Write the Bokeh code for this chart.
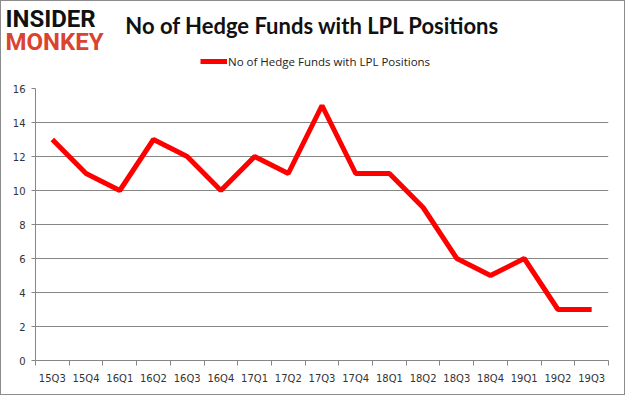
from bokeh.plotting import figure
from bokeh.layouts import column
from bokeh.models import FixedTicker, Label, Legend, LegendItem, Range1d
from bokeh.embed import file_html
from bokeh.resources import INLINE

quarters = ["15Q3", "15Q4", "16Q1", "16Q2", "16Q3", "16Q4", "17Q1", "17Q2", "17Q3",
            "17Q4", "18Q1", "18Q2", "18Q3", "18Q4", "19Q1", "19Q2", "19Q3"]
funds = [13, 11, 10, 13, 12, 10, 12, 11, 15, 11, 11, 9, 6, 5, 6, 3, 3]
y_ticks = [0, 2, 4, 6, 8, 10, 12, 14, 16]
series_name = "No of Hedge Funds with LPL Positions"
title_text = "No of Hedge Funds with LPL Positions"

RED = "#ff0000"
GREY = "#868686"
W = 623
HEAD_H = 78
MAIN_H = 315

xs = [i + 0.5 for i in range(len(quarters))]

# ---------- header: logo, title, legend ----------
# the series is drawn here only to feed the legend; the header's y range keeps it out of view
head = figure(width=W, height=HEAD_H, output_backend="svg", toolbar_location=None,
              x_range=Range1d(0, len(quarters)), y_range=Range1d(100, 178),
              x_axis_type=None, y_axis_type=None,
              min_border_left=0, min_border_right=0, min_border_top=0, min_border_bottom=0)
head.frame_align = False
head.outline_line_color = None
head.xgrid.grid_line_color = None
head.ygrid.grid_line_color = None

legend_r = head.line(xs, funds, line_color=RED, line_width=5)
legend = Legend(items=[LegendItem(label=series_name, renderers=[legend_r])],
                location=(199, 10), orientation="horizontal",
                label_text_font="Open Sans", label_text_font_size="11.5px",
                label_text_color="#222222",
                glyph_width=27, glyph_height=10, label_standoff=1, label_height=16,
                border_line_color=None, background_fill_alpha=0, padding=0, margin=0)
head.add_layout(legend, "center")

head.add_layout(Label(x=311, y=54, x_units="screen", y_units="screen", text=title_text,
                      text_align="center", text_baseline="alphabetic",
                      text_font="Lato", text_font_style="bold", text_font_size="22px",
                      text_color="#111111"))
head.add_layout(Label(x=4, y=61, x_units="screen", y_units="screen", text="INSIDER",
                      text_align="left", text_baseline="alphabetic",
                      text_font="Roboto", text_font_style="bold", text_font_size="24px",
                      text_color="#111111"))
head.add_layout(Label(x=4, y=38, x_units="screen", y_units="screen", text="MONKEY",
                      text_align="left", text_baseline="alphabetic",
                      text_font="Roboto", text_font_style="bold", text_font_size="24px",
                      text_color="#d9432f"))

# ---------- main chart ----------
p = figure(width=W, height=MAIN_H, output_backend="svg", toolbar_location=None,
           x_range=Range1d(0, len(quarters)), y_range=Range1d(0, 16),
           min_border_left=34, min_border_right=16, min_border_top=9, min_border_bottom=34)
p.frame_align = False
p.outline_line_color = None

p.line(xs, funds, line_color=RED, line_width=5)

p.xaxis.ticker = FixedTicker(ticks=xs, minor_ticks=list(range(len(quarters) + 1)))
p.xaxis.major_label_overrides = {x: q for x, q in zip(xs, quarters)}
p.xaxis.major_tick_out = 0
p.xaxis.major_tick_in = 0
p.xaxis.minor_tick_out = 5
p.xaxis.minor_tick_in = 0
p.xaxis.minor_tick_line_color = GREY
p.xaxis.axis_line_color = GREY
p.xaxis.major_label_text_font = "DejaVu Sans"
p.xaxis.major_label_text_font_size = "10px"
p.xaxis.major_label_text_color = "#333333"
p.xaxis.major_label_standoff = 7
p.xgrid.grid_line_color = None

p.yaxis.ticker = FixedTicker(ticks=y_ticks)
p.yaxis.major_tick_out = 4
p.yaxis.major_tick_in = 0
p.yaxis.minor_tick_out = 0
p.yaxis.minor_tick_in = 0
p.yaxis.major_tick_line_color = GREY
p.yaxis.axis_line_color = GREY
p.yaxis.major_label_text_font = "DejaVu Sans"
p.yaxis.major_label_text_font_size = "10px"
p.yaxis.major_label_text_color = "#333333"
p.yaxis.major_label_standoff = 6
p.ygrid.grid_line_color = GREY
p.ygrid.grid_line_width = 1

page = column(head, p, spacing=0)
page.styles = {"border": "1px solid #8c8c8c"}

open("out.html", "w").write(file_html(page, INLINE))
